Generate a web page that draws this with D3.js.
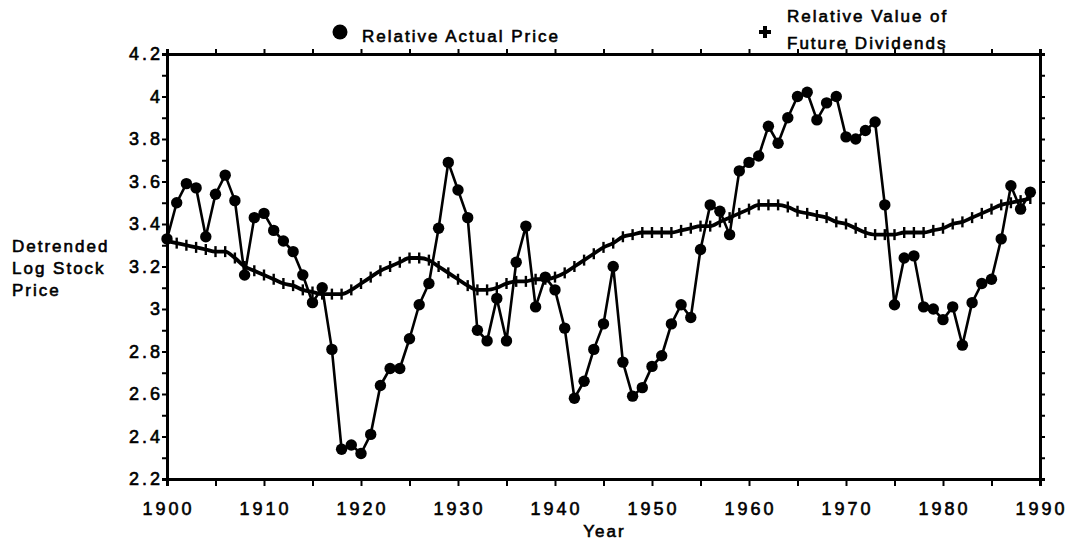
<!DOCTYPE html>
<html>
<head>
<meta charset="utf-8">
<script src="https://cdn.jsdelivr.net/npm/d3@7"></script>
<style>
  html, body { margin: 0; padding: 0; background: #fff; }
  svg text { font-family: "Liberation Sans", Arial, sans-serif; fill: #000; }
</style>
</head>
<body>
<svg id="chart" width="1080" height="544"></svg>
<script>
// ---- Data ----
const years = d3.range(1900, 1990);
const actualPrice = [
  3.33, 3.50, 3.59, 3.57, 3.34, 3.54, 3.63, 3.51, 3.16, 3.43,
  3.45, 3.37, 3.32, 3.27, 3.16, 3.03, 3.10, 2.81, 2.34, 2.36,
  2.32, 2.41, 2.64, 2.72, 2.72, 2.86, 3.02, 3.12, 3.38, 3.69,
  3.56, 3.43, 2.90, 2.85, 3.05, 2.85, 3.22, 3.39, 3.01, 3.15,
  3.09, 2.91, 2.58, 2.66, 2.81, 2.93, 3.20, 2.75, 2.59, 2.63,
  2.73, 2.78, 2.93, 3.02, 2.96, 3.28, 3.49, 3.46, 3.35, 3.65,
  3.69, 3.72, 3.86, 3.78, 3.90, 4.00, 4.02, 3.89, 3.97, 4.00,
  3.81, 3.80, 3.84, 3.88, 3.49, 3.02, 3.24, 3.25, 3.01, 3.00,
  2.95, 3.01, 2.83, 3.03, 3.12, 3.14, 3.33, 3.58, 3.47, 3.55
];
const futureDividends = [
  3.32, 3.31, 3.30, 3.29, 3.28, 3.27, 3.27, 3.24, 3.20, 3.18,
  3.16, 3.14, 3.12, 3.11, 3.09, 3.08, 3.07, 3.07, 3.07, 3.09,
  3.12, 3.15, 3.18, 3.20, 3.22, 3.24, 3.24, 3.23, 3.20, 3.17,
  3.14, 3.11, 3.09, 3.09, 3.10, 3.12, 3.13, 3.13, 3.14, 3.14,
  3.15, 3.17, 3.20, 3.23, 3.26, 3.29, 3.31, 3.34, 3.35, 3.36,
  3.36, 3.36, 3.36, 3.37, 3.38, 3.39, 3.39, 3.41, 3.43, 3.45,
  3.47, 3.49, 3.49, 3.49, 3.48, 3.46, 3.45, 3.44, 3.43, 3.41,
  3.40, 3.38, 3.36, 3.35, 3.35, 3.35, 3.36, 3.36, 3.36, 3.37,
  3.38, 3.40, 3.41, 3.43, 3.45, 3.47, 3.49, 3.50, 3.51, 3.52
];
const xTickLabels = [1900, 1910, 1920, 1930, 1940, 1950, 1960, 1970, 1980, 1990];
const yTickLabels = ["2.2", "2.4", "2.6", "2.8", "3", "3.2", "3.4", "3.6", "3.8", "4", "4.2"];
const seriesNames = ["Relative Actual Price", "Relative Value of", "Future Dividends"];
const yTitle = ["Detrended", "Log Stock", "Price"];
const xTitle = "Year";

// ---- Layout ----
const L = 167, R = 1040, T = 54, B = 479;
const svg = d3.select("#chart");
const x = d3.scaleLinear().domain([1900, 1990]).range([L, R]);
const y = d3.scaleLinear().domain([2.2, 4.2]).range([B, T]);

const txt = (sel) => sel.attr("stroke", "#000").attr("stroke-width", 0.6);

// ---- Axes ----
const yMinor = d3.range(22, 43).map(v => v / 10);
const xMinor = d3.range(1900, 1991, 5);

const axL = svg.append("g").attr("transform", `translate(${L},0)`)
  .call(d3.axisLeft(y).tickValues(yMinor).tickSize(5).tickFormat(""));
const axR = svg.append("g").attr("transform", `translate(${R},0)`)
  .call(d3.axisRight(y).tickValues(yMinor).tickSize(5).tickFormat(""));
const axT = svg.append("g").attr("transform", `translate(0,${T})`)
  .call(d3.axisTop(x).tickValues(xMinor).tickSize(5).tickFormat(""));
const axB = svg.append("g").attr("transform", `translate(0,${B})`)
  .call(d3.axisBottom(x).tickValues(xMinor).tickSize(7).tickFormat(""));
[axL, axR, axT, axB].forEach(a => {
  a.select(".domain").attr("stroke", "#000").attr("stroke-width", 3);
  a.selectAll(".tick line").attr("stroke", "#000").attr("stroke-width", 2);
});

// Tick labels
svg.append("g").selectAll("text").data(yTickLabels).join("text")
  .attr("x", 163).attr("y", d => y(+d) + 6)
  .attr("text-anchor", "end")
  .attr("font-size", 18).attr("letter-spacing", 3)
  .text(d => d).call(txt);

svg.append("g").selectAll("text").data(xTickLabels).join("text")
  .attr("x", d => x(d) + 1.5).attr("y", 515)
  .attr("text-anchor", "middle")
  .attr("font-size", 18).attr("letter-spacing", 3)
  .text(d => d).call(txt);

// Axis titles
svg.append("text").attr("x", x(1945) + 1).attr("y", 537)
  .attr("text-anchor", "middle").attr("font-size", 17).attr("letter-spacing", 2)
  .text(xTitle).call(txt);

svg.append("g").selectAll("text").data(yTitle).join("text")
  .attr("x", 12).attr("y", (d, i) => 252 + i * 22)
  .attr("font-size", 17).attr("letter-spacing", 2)
  .text(d => d).call(txt);

// ---- Series ----
const pts = years.map((yr, i) => ({ yr, p: actualPrice[i], d: futureDividends[i] }));

const lineD = d3.line().x(d => x(d.yr)).y(d => y(d.d)).curve(d3.curveMonotoneX);
svg.append("path").datum(pts).attr("d", lineD)
  .attr("fill", "none").attr("stroke", "#000").attr("stroke-width", 3.8);

svg.append("g").selectAll("line").data(pts).join("line")
  .attr("x1", d => x(d.yr)).attr("x2", d => x(d.yr))
  .attr("y1", d => y(d.d) - 5.5).attr("y2", d => y(d.d) + 5.5)
  .attr("stroke", "#000").attr("stroke-width", 2.4);

const lineP = d3.line().x(d => x(d.yr)).y(d => y(d.p));
svg.append("path").datum(pts).attr("d", lineP)
  .attr("fill", "none").attr("stroke", "#000").attr("stroke-width", 2.6)
  .attr("stroke-linejoin", "round");

svg.append("g").selectAll("circle").data(pts).join("circle")
  .attr("cx", d => x(d.yr)).attr("cy", d => y(d.p)).attr("r", 5.7)
  .attr("fill", "#000");

// ---- Legend ----
svg.append("circle").attr("cx", 340).attr("cy", 32).attr("r", 7.5).attr("fill", "#000");
svg.append("text").attr("x", 362).attr("y", 42)
  .attr("font-size", 17).attr("letter-spacing", 2)
  .text(seriesNames[0]).call(txt);

svg.append("path").attr("d", d3.symbol().type(d3.symbolCross).size(80)())
  .attr("transform", "translate(765,32)").attr("fill", "#000");
svg.append("text").attr("x", 787).attr("y", 22)
  .attr("font-size", 17).attr("letter-spacing", 2)
  .text(seriesNames[1]).call(txt);
svg.append("text").attr("x", 787).attr("y", 49)
  .attr("font-size", 17).attr("letter-spacing", 2)
  .text(seriesNames[2]).call(txt);
</script>
</body>
</html>
